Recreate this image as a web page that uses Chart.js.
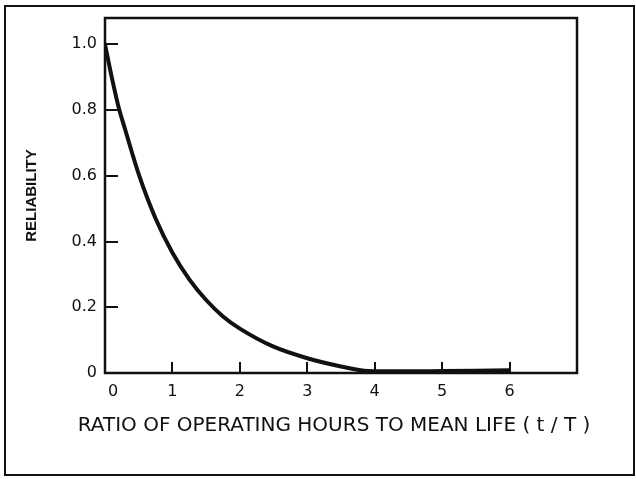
<!DOCTYPE html>
<html>
<head>
<meta charset="utf-8">
<script src="https://cdn.jsdelivr.net/npm/chart.js@4/dist/chart.umd.min.js"></script>
<style>
  html, body { margin: 0; padding: 0; background: #fff; }
  #wrap { position: relative; width: 636px; height: 479px; }
  #frame { position: absolute; left: 4px; top: 5px; width: 631px; height: 471px; box-sizing: border-box; border: 2px solid #111; pointer-events: none; }
</style>
</head>
<body>
<div id="wrap">
  <canvas id="chart" width="636" height="479"></canvas>
  <div id="frame"></div>
</div>
<script>
// values
const ratio       = [0, 0.1, 0.2, 0.3, 0.5, 0.75, 1, 1.25, 1.5, 1.75, 2, 2.5, 3, 3.5, 3.9, 4.5, 5, 5.5, 6];
const reliability = [1.0, 0.9, 0.81, 0.74, 0.605, 0.47, 0.366, 0.285, 0.222, 0.172, 0.135, 0.08, 0.045, 0.02, 0.006, 0.005, 0.006, 0.007, 0.008];
const xTicks = [0, 1, 2, 3, 4, 5, 6];
const yTicks = [0, 0.2, 0.4, 0.6, 0.8, 1.0];
const xTitle = 'RATIO OF OPERATING HOURS TO MEAN LIFE ( t / T )';

const ink = '#111';

// plot box, inward tick marks and the wide x title (wider than the plot, so not a scale title)
const boxTicks = {
  id: 'boxTicks',
  afterDatasetsDraw(chart){
    const {ctx, chartArea: a, scales: {x, y}} = chart;
    ctx.save();
    ctx.strokeStyle = ink;
    ctx.lineWidth = 2.5;
    ctx.strokeRect(a.left, a.top, a.right - a.left, a.bottom - a.top);
    ctx.lineWidth = 2;
    ctx.beginPath();
    yTicks.filter(v => v > 0).forEach(v => {
      const py = Math.round(y.getPixelForValue(v));
      ctx.moveTo(a.left, py); ctx.lineTo(a.left + 13, py);
    });
    xTicks.filter(v => v > 0).forEach(v => {
      const px = Math.round(x.getPixelForValue(v));
      ctx.moveTo(px, a.bottom); ctx.lineTo(px, a.bottom - 11);
    });
    ctx.stroke();

    ctx.fillStyle = ink;
    ctx.font = '20px "DejaVu Sans"';
    ctx.textAlign = 'center';
    ctx.textBaseline = 'middle';
    ctx.fillText(xTitle, (a.left + a.right) / 2 - 7, a.bottom + 53);
    ctx.restore();
  }
};

new Chart(document.getElementById('chart'), {
  type: 'line',
  data: {
    datasets: [{
      data: ratio.map((r, i) => ({ x: r, y: reliability[i] })),
      borderColor: ink,
      borderWidth: 4,
      pointRadius: 0,
      cubicInterpolationMode: 'monotone',
      fill: false
    }]
  },
  options: {
    responsive: false,
    animation: false,
    layout: { padding: { top: 18, right: 59, left: 0, bottom: 0 } },
    plugins: { legend: { display: false }, tooltip: { enabled: false } },
    scales: {
      x: {
        type: 'linear', min: 0, max: 7,
        afterFit: s => { s.height = 106; },
        grid: { display: false, drawTicks: false },
        border: { display: false },
        ticks: {
          stepSize: 1, padding: 9, color: ink, maxRotation: 0,
          font: { family: 'DejaVu Sans', size: 16 },
          callback: v => xTicks.includes(v) ? (v === 0 ? '\u2002\u20020' : String(v)) : ''
        }
      },
      y: {
        min: 0, max: 1.08,
        afterFit: s => { s.width = 105; },
        grid: { display: false, drawTicks: false },
        border: { display: false },
        ticks: {
          stepSize: 0.2, includeBounds: false, padding: 8, color: ink,
          font: { family: 'DejaVu Sans', size: 16 },
          callback: v => v === 0 ? '0' : v.toFixed(1)
        },
        title: {
          display: true, text: 'RELIABILITY', color: ink,
          font: { family: 'Liberation Sans', size: 15, weight: 'bold' },
          padding: { top: 23, bottom: 0 }
        }
      }
    }
  },
  plugins: [boxTicks]
});
</script>
</body>
</html>
